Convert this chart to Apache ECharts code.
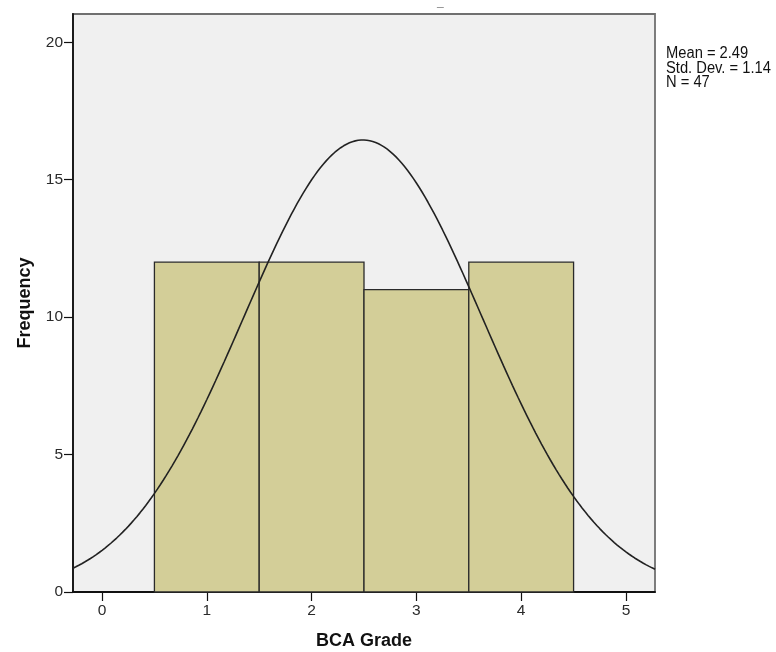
<!DOCTYPE html>
<html>
<head>
<meta charset="utf-8">
<script src="https://cdn.jsdelivr.net/npm/echarts@6/dist/echarts.min.js"></script>
<style>
  html, body { margin: 0; padding: 0; background: #ffffff; }
  #chart { width: 776px; height: 652px; }
</style>
</head>
<body>
<div id="chart"></div>
<script>
// Histogram of BCA grades with a fitted normal curve
const binStarts = [0.5, 1.5, 2.5, 3.5];
const binEnds = [1.5, 2.5, 3.5, 4.5];
const frequencies = [12, 12, 11, 12];
const xTicks = [0, 1, 2, 3, 4, 5];
const yTicks = [0, 5, 10, 15, 20];
const meanValue = 2.49;
const stdDev = 1.14;
const sampleSize = 47;
const statLines = ['Mean = 2.49', 'Std. Dev. = 1.14', 'N = 47'];

const xMin = -0.277, xMax = 5.277;
const yMin = 0, yMax = 21.03;

// Normal density scaled to counts (bin width 1)
const curve = [];
const steps = 200;
for (let i = 0; i <= steps; i++) {
  const x = xMin + (xMax - xMin) * i / steps;
  const z = (x - meanValue) / stdDev;
  const y = sampleSize * 1 / (stdDev * Math.sqrt(2 * Math.PI)) * Math.exp(-0.5 * z * z);
  curve.push([x, y]);
}

const bars = binStarts.map((s, i) => [s, binEnds[i], frequencies[i]]);

const tickFont = { fontFamily: 'Liberation Sans', fontSize: 15.5, color: '#2a2a2a' };
const nameFont = { fontFamily: 'Liberation Sans', fontWeight: 'bold', fontSize: 18, color: '#111' };

const chart = echarts.init(document.getElementById('chart'), null, { renderer: 'canvas' });
chart.setOption({
  animation: false,
  backgroundColor: '#ffffff',
  grid: {
    left: 73, right: 121, top: 14, bottom: 60,
    outerBoundsMode: 'none',
    containLabel: false,
    show: true, backgroundColor: '#f0f0f0',
    borderColor: '#707070', borderWidth: 1.8
  },
  xAxis: {
    type: 'value', min: xMin, max: xMax,
    name: 'BCA Grade', nameLocation: 'middle', nameGap: 40,
    nameTextStyle: nameFont,
    axisLine: { show: true, onZero: false, lineStyle: { color: '#111', width: 1.8 } },
    axisTick: { show: true, length: 9, customValues: xTicks, lineStyle: { color: '#111', width: 1.2 } },
    axisLabel: Object.assign({ customValues: xTicks, margin: 11 }, tickFont),
    splitLine: { show: false }
  },
  yAxis: {
    type: 'value', min: yMin, max: yMax,
    name: 'Frequency', nameLocation: 'middle', nameGap: 39,
    nameTextStyle: nameFont,
    axisLine: { show: true, onZero: false, lineStyle: { color: '#111', width: 1.8 } },
    axisTick: { show: true, length: 9, customValues: yTicks, lineStyle: { color: '#111', width: 1.2 } },
    axisLabel: Object.assign({ customValues: yTicks, margin: 10 }, tickFont),
    splitLine: { show: false }
  },
  graphic: [
    {
      type: 'text', x: 666, y: 46.5, scaleX: 0.92,
      style: {
        text: statLines.join('\n'),
        font: '16px "Liberation Sans"',
        lineHeight: 14.5, fill: '#111'
      }
    },
    {
      type: 'text', left: 437, top: -3,
      style: { text: '_', font: 'bold 12px "Liberation Sans"', fill: '#333' }
    }
  ],
  series: [
    {
      type: 'custom',
      data: bars,
      renderItem: function (params, api) {
        const p0 = api.coord([api.value(0), api.value(2)]);
        const p1 = api.coord([api.value(1), 0]);
        return {
          type: 'rect',
          shape: { x: p0[0], y: p0[1], width: p1[0] - p0[0], height: p1[1] - p0[1] },
          style: { fill: '#d3ce98', stroke: '#2a2a2a', lineWidth: 1.3 }
        };
      },
      z: 2
    },
    {
      type: 'line',
      data: curve,
      showSymbol: false,
      smooth: false,
      lineStyle: { color: '#222', width: 1.6 },
      z: 3
    }
  ]
});
</script>
</body>
</html>
